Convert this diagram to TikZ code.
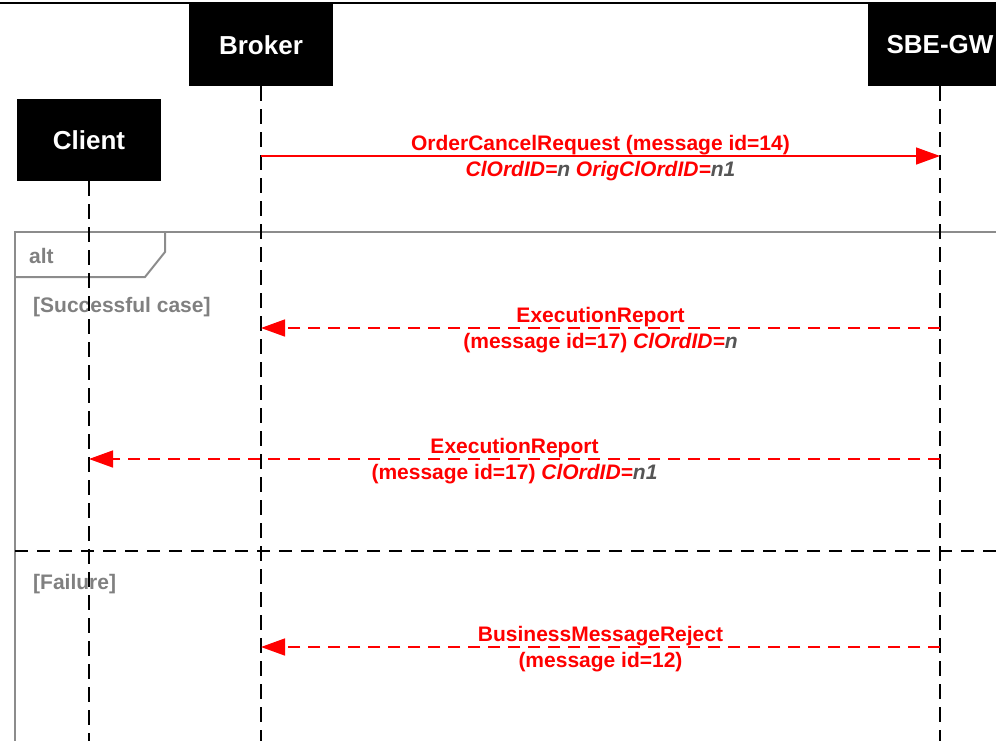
\documentclass[tikz,border=0pt]{standalone}
\usepackage{fontspec}
\setmainfont{Liberation Sans}
\usepackage{tikz}
\usetikzlibrary{arrows.meta}
\usetikzlibrary{positioning}

\definecolor{msgred}{RGB}{255,0,0}
\definecolor{framegray}{RGB}{140,140,140}
\definecolor{textgray}{RGB}{128,128,128}
\definecolor{valgray}{RGB}{85,85,85}
\newcommand{\val}[1]{\textcolor{valgray}{#1}}

\begin{document}
\begin{tikzpicture}[x=1pt,y=-1pt,node distance=679pt,on grid,
    actor/.style={fill=black,text=white,minimum width=144pt,minimum height=82pt,inner sep=0pt,font=\fontsize{26}{30}\selectfont\bfseries},
    life/.style={line width=2.5pt,dash pattern=on 15pt off 8pt},
    msg/.style={msgred,line width=1.5pt,-{Triangle[length=24pt,width=17pt]}},
    reply/.style={msg,dash pattern=on 12pt off 8pt},
    lbl/.style={text=msgred,inner sep=0pt,font=\fontsize{21}{25}\selectfont\bfseries},
    guard/.style={text=textgray,anchor=west,inner sep=0pt,font=\fontsize{21}{25}\selectfont\bfseries}]
    \useasboundingbox (0,0) rectangle (996,740);
    \clip (0,0) rectangle (996,740);
    \draw[line width=1.5pt] (0,3) -- (996,3);

    \node[actor] (broker) at (261,45) {Broker};
    \node[actor] [right=of broker] (gw) {SBE-GW};
    \node[actor] (client) at (89,140) {Client};

    \draw[framegray,line width=2pt] (15,750) -- (15,232) -- (1000,232);
    \draw[framegray,line width=2pt] (15,277) -- (145,277) -- (165,252) -- (165,232);
    \node[guard] (alt) at (29,256) {alt};
    \node[guard] (ok) at (33,307) {[Successful case]};
    \node[guard] (fail) at (33,584) {[Failure]};
    \draw[line width=2pt,dash pattern=on 13pt off 9pt] (15,551) -- (1000,551);

    \draw[life] (client.south) -- (client.south |- 0,750);
    \draw[life] (broker.south) -- (broker.south |- 0,750);
    \draw[life] (gw.south) -- (gw.south |- 0,750);

    \draw[msg] (broker |- 0,156) -- (gw |- 0,156)
        node[lbl,midway,above] {OrderCancelRequest (message id=14)}
        node[lbl,midway,below,inner sep=5pt] {\itshape ClOrdID=\val{n} OrigClOrdID=\val{n1}};
    \draw[reply] (gw |- 0,328) -- (broker |- 0,328)
        node[lbl,midway,above] {ExecutionReport}
        node[lbl,midway,below,inner sep=5pt] {(message id=17) \itshape ClOrdID=\val{n}};
    \draw[reply] (gw |- 0,459) -- (client |- 0,459)
        node[lbl,midway,above] {ExecutionReport}
        node[lbl,midway,below,inner sep=5pt] {(message id=17) \itshape ClOrdID=\val{n1}};
    \draw[reply] (gw |- 0,647) -- (broker |- 0,647)
        node[lbl,midway,above] {BusinessMessageReject}
        node[lbl,midway,below,inner sep=5pt] {(message id=12)};
\end{tikzpicture}
\end{document}
